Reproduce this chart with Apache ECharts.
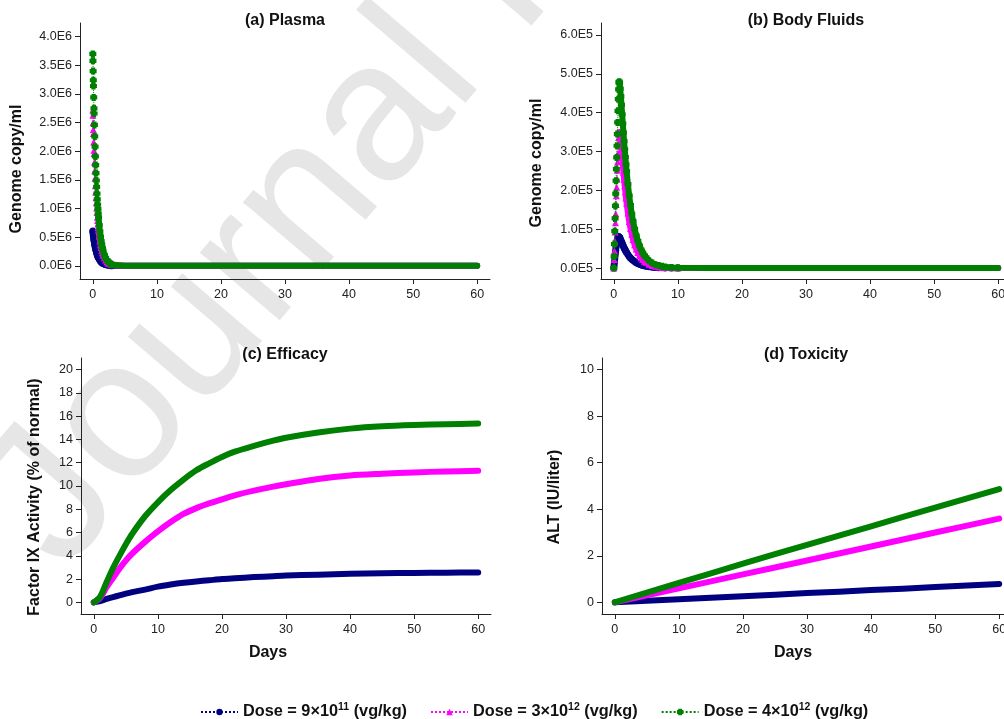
<!DOCTYPE html>
<html>
<head>
<meta charset="utf-8">
<script src="https://cdn.jsdelivr.net/npm/echarts@6/dist/echarts.min.js"></script>
<style>
  html, body { margin: 0; padding: 0; background: #fff; }
  #main { width: 1004px; height: 719px; }
</style>
</head>
<body>
<div id="main"></div>
<script>
// doses (legend)
const doseNames = ['Dose 9e11', 'Dose 3e12', 'Dose 4e12'];
const doseBase = ['9×10', '3×10', '4×10'];
const doseExp = ['11', '12', '12'];
const doseColors = ['#000080', '#ff00ff', '#008000'];
const doseSymbols = ['circle', 'triangle', 'path://M2,0H8V2H10V8H8V10H2V8H0V2H2Z'];

// tick labels
const dayTicks = [0, 10, 20, 30, 40, 50, 60];
const plasmaTicks = [0, 0.5, 1, 1.5, 2, 2.5, 3, 3.5, 4];      // x1E6
const bodyTicks = [0, 1, 2, 3, 4, 5, 6];                      // x1E5
const efficacyTicks = [0, 2, 4, 6, 8, 10, 12, 14, 16, 18, 20];
const toxicityTicks = [0, 2, 4, 6, 8, 10];

// (a) plasma, genome copy/ml in units of 1E6
const plasmaDays = [0, 0.02, 0.05, 0.08, 0.1, 0.14, 0.18, 0.2, 0.25, 0.3, 0.35, 0.4, 0.45, 0.5, 0.55, 0.6, 0.65, 0.7, 0.75, 0.8, 0.85, 0.9,
  1.0, 1.1, 1.2, 1.3, 1.4, 1.5, 1.6, 1.8, 2.0, 2.2, 2.4, 2.6, 2.8, 3.0,
  4, 5, 6, 8, 10, 15, 20, 25, 30, 35, 40, 45, 50, 55, 60];
const plasmaLow = [0.61, 0.59, 0.56, 0.53, 0.52, 0.48, 0.45, 0.44, 0.40, 0.37, 0.34, 0.31, 0.29, 0.27, 0.25, 0.23, 0.21, 0.19, 0.18, 0.16, 0.15, 0.14,
  0.12, 0.10, 0.08, 0.07, 0.06, 0.05, 0.04, 0.03, 0.02, 0.02, 0.01, 0.01, 0, 0,
  0, 0, 0, 0, 0, 0, 0, 0, 0, 0, 0, 0, 0, 0, 0];
const plasmaMid = [2.72, 2.63, 2.50, 2.38, 2.31, 2.16, 2.02, 1.96, 1.81, 1.66, 1.53, 1.40, 1.29, 1.19, 1.10, 1.01, 0.93, 0.85, 0.79, 0.73, 0.67, 0.62,
  0.52, 0.44, 0.37, 0.32, 0.27, 0.23, 0.19, 0.14, 0.10, 0.07, 0.05, 0.04, 0.03, 0.02,
  0.01, 0, 0, 0, 0, 0, 0, 0, 0, 0, 0, 0, 0, 0, 0];
const plasmaHigh = [3.70, 3.58, 3.40, 3.24, 3.14, 2.94, 2.75, 2.66, 2.46, 2.26, 2.08, 1.91, 1.76, 1.62, 1.49, 1.38, 1.26, 1.16, 1.07, 0.99, 0.91, 0.84,
  0.71, 0.60, 0.51, 0.43, 0.37, 0.31, 0.26, 0.19, 0.14, 0.10, 0.07, 0.05, 0.03, 0.02,
  0.01, 0, 0, 0, 0, 0, 0, 0, 0, 0, 0, 0, 0, 0, 0];

// (b) body fluids, genome copy/ml in units of 1E5
const bodyDays = [0, 0.05, 0.1, 0.15, 0.2, 0.25, 0.3, 0.35, 0.4, 0.45, 0.5, 0.55, 0.6, 0.65, 0.7, 0.75, 0.8, 0.85, 0.9,
  1.0, 1.1, 1.2, 1.3, 1.4, 1.5, 1.6, 1.7, 1.8, 1.9, 2.0, 2.2, 2.4, 2.6, 2.8, 3.0,
  3.25, 3.5, 3.75, 4.0, 4.25, 4.5, 4.75, 5.0, 5.5, 6.0, 6.5, 7.0, 7.5, 8.0, 9, 10,
  15, 20, 25, 30, 35, 40, 45, 50, 55, 60];
const bodyLow = [0, 0.08, 0.16, 0.24, 0.32, 0.39, 0.46, 0.53, 0.59, 0.64, 0.69, 0.73, 0.76, 0.78, 0.80, 0.81, 0.81, 0.80, 0.79,
  0.76, 0.72, 0.68, 0.64, 0.60, 0.56, 0.52, 0.49, 0.46, 0.43, 0.40, 0.35, 0.30, 0.26, 0.23, 0.20,
  0.17, 0.14, 0.12, 0.10, 0.085, 0.07, 0.06, 0.05, 0.035, 0.025, 0.017, 0.012, 0.008, 0.005, 0.002, 0.001,
  0, 0, 0, 0, 0, 0, 0, 0, 0, 0];
const bodyMid = [0, 0.22, 0.45, 0.69, 0.93, 1.17, 1.40, 1.64, 1.86, 2.08, 2.30, 2.52, 2.74, 2.96, 3.18, 3.36, 3.48, 3.50, 3.48,
  3.38, 3.22, 3.04, 2.85, 2.66, 2.47, 2.29, 2.12, 1.96, 1.81, 1.67, 1.42, 1.20, 1.02, 0.87, 0.74,
  0.60, 0.49, 0.40, 0.33, 0.27, 0.22, 0.18, 0.15, 0.10, 0.07, 0.05, 0.03, 0.02, 0.015, 0.007, 0.003,
  0, 0, 0, 0, 0, 0, 0, 0, 0, 0];
const bodyHigh = [0, 0.30, 0.62, 0.95, 1.28, 1.60, 1.92, 2.25, 2.55, 2.85, 3.15, 3.45, 3.75, 4.05, 4.35, 4.60, 4.78, 4.80, 4.76,
  4.62, 4.42, 4.20, 3.96, 3.72, 3.49, 3.27, 3.06, 2.86, 2.67, 2.49, 2.16, 1.87, 1.62, 1.40, 1.21,
  1.01, 0.84, 0.70, 0.58, 0.48, 0.40, 0.33, 0.28, 0.19, 0.13, 0.09, 0.065, 0.045, 0.03, 0.015, 0.007,
  0, 0, 0, 0, 0, 0, 0, 0, 0, 0];

// (c) efficacy, factor IX activity (% of normal)
const effDays = [0, 1, 2, 3, 4, 5, 6, 8, 10, 12, 14, 16, 18, 20, 22, 25, 28, 30, 35, 40, 45, 50, 55, 60];
const effLow = [0, 0.1, 0.3, 0.45, 0.6, 0.75, 0.88, 1.1, 1.35, 1.53, 1.68, 1.8, 1.9, 2.0, 2.07, 2.17, 2.25, 2.3, 2.38, 2.45, 2.5, 2.53, 2.55, 2.57];
const effMid = [0, 0.4, 1.3, 2.1, 2.9, 3.6, 4.2, 5.2, 6.1, 6.9, 7.6, 8.1, 8.5, 8.85, 9.2, 9.6, 9.95, 10.15, 10.6, 10.9, 11.05, 11.17, 11.25, 11.3];
const effHigh = [0, 0.5, 1.75, 2.95, 4.0, 5.0, 5.9, 7.4, 8.6, 9.65, 10.55, 11.35, 11.95, 12.5, 12.95, 13.45, 13.9, 14.15, 14.6, 14.93, 15.13, 15.24, 15.31, 15.37];

// (d) toxicity, ALT (IU/liter)
const toxDays = [0, 5, 10, 15, 20, 25, 30, 35, 40, 45, 50, 55, 60];
const toxLow = [0, 0.07, 0.13, 0.2, 0.26, 0.33, 0.4, 0.46, 0.53, 0.59, 0.66, 0.72, 0.79];
const toxMid = [0, 0.3, 0.6, 0.9, 1.2, 1.5, 1.8, 2.1, 2.4, 2.7, 3.0, 3.3, 3.6];
const toxHigh = [0, 0.42, 0.84, 1.25, 1.66, 2.07, 2.47, 2.87, 3.27, 3.67, 4.07, 4.47, 4.87];

const font = '"Liberation Sans", Arial, Helvetica, sans-serif';
const ink = '#222';

const chart = echarts.init(document.getElementById('main'));

function pairs(days, vals) {
  return days.map((d, k) => [d, vals[k]]);
}

function xAxis(grid) {
  return {
    type: 'value', gridIndex: grid, min: -2, max: 62,
    axisLine: { show: true, onZero: false, lineStyle: { color: ink, width: 1 } },
    axisTick: { show: true, length: 5, customValues: dayTicks, lineStyle: { color: ink } },
    axisLabel: { customValues: dayTicks, margin: 9, fontSize: 12.5, color: ink, fontFamily: font },
    splitLine: { show: false }
  };
}

function yAxis(grid, min, max, ticks, fmt) {
  return {
    type: 'value', gridIndex: grid, min: min, max: max,
    axisLine: { show: true, onZero: false, lineStyle: { color: ink, width: 1 } },
    axisTick: { show: true, length: 5, customValues: ticks, lineStyle: { color: ink } },
    axisLabel: { customValues: ticks, margin: 8, fontSize: 12.5, color: ink, fontFamily: font, formatter: fmt },
    splitLine: { show: false }
  };
}

// dotted line with markers (the legend takes its icon from these)
function markerSeries(i, grid, days, vals, upto) {
  return {
    type: 'line', name: doseNames[i], xAxisIndex: grid, yAxisIndex: grid,
    data: pairs(days, vals).slice(0, upto), symbol: doseSymbols[i], symbolSize: 7, showSymbol: true,
    lineStyle: { color: doseColors[i], width: 1, type: 'dotted' },
    itemStyle: { color: doseColors[i] }, z: 3 + i * 2
  };
}

// thick band where the markers pile up into a solid trace
function bandSeries(i, grid, days, vals, from, width) {
  return {
    type: 'line', name: doseNames[i], xAxisIndex: grid, yAxisIndex: grid,
    data: pairs(days, vals).slice(from), symbol: 'none',
    lineStyle: { color: doseColors[i], width: width, cap: 'round', join: 'round' },
    z: 2 + i * 2
  };
}

const plasmaSets = [plasmaLow, plasmaMid, plasmaHigh];
const bodySets = [bodyLow, bodyMid, bodyHigh];
const effSets = [effLow, effMid, effHigh];
const toxSets = [toxLow, toxMid, toxHigh];

const series = [];
plasmaSets.forEach((v, i) => series.push(markerSeries(i, 0, plasmaDays, v, 36)));
plasmaSets.forEach((v, i) => series.push(bandSeries(i, 0, plasmaDays, v, 21, 6)));
bodySets.forEach((v, i) => series.push(markerSeries(i, 1, bodyDays, v, 51)));
bodySets.forEach((v, i) => series.push(bandSeries(i, 1, bodyDays, v, 17, 6)));
effSets.forEach((v, i) => {
  const s = bandSeries(i, 2, effDays, v, 0, 6);
  s.smooth = 0.3;
  series.push(s);
});
toxSets.forEach((v, i) => series.push(bandSeries(i, 3, toxDays, v, 0, 6)));

function label(text, x, y, rot) {
  return {
    type: 'text', x: x, y: y, rotation: rot ? Math.PI / 2 : 0, z: 10,
    style: {
      text: text, fill: '#111', font: 'bold 16px ' + font,
      align: 'center', verticalAlign: 'middle', textAlign: 'center', textVerticalAlign: 'middle'
    }
  };
}

function grid(left, top) {
  return { left: left, top: top, width: 410, height: 256, outerBoundsMode: 'none' };
}

chart.setOption({
  animation: false,
  backgroundColor: '#fff',
  grid: [grid(80, 23), grid(601, 23), grid(81, 358), grid(602, 358)],
  xAxis: [xAxis(0), xAxis(1), xAxis(2), xAxis(3)],
  yAxis: [
    yAxis(0, -0.23, 4.24, plasmaTicks, v => v.toFixed(1) + 'E6'),
    yAxis(1, -0.28, 6.31, bodyTicks, v => v.toFixed(1) + 'E5'),
    yAxis(2, -1, 21, efficacyTicks, v => String(v)),
    yAxis(3, -0.5, 10.5, toxicityTicks, v => String(v))
  ],
  legend: {
    data: doseNames, left: 195, top: 697,
    itemWidth: 37, itemHeight: 8, itemGap: 23, selectedMode: false,
    formatter: name => {
      const i = doseNames.indexOf(name);
      return '{b|Dose = ' + doseBase[i] + '}{s|' + doseExp[i] + '}{b| (vg/kg)}';
    },
    textStyle: {
      rich: {
        b: { fontSize: 16.3, fontWeight: 'bold', fontFamily: font, color: '#111' },
        s: { fontSize: 10.5, fontWeight: 'bold', fontFamily: font, color: '#111', padding: [0, 0, 9, 0] }
      }
    }
  },
  graphic: [
    {
      type: 'text', x: 22, y: 538, rotation: 49.5 * Math.PI / 180, z: -10, silent: true,
      style: {
        text: 'Journal Pre-proof', fill: '#e6e6e6', font: '198px ' + font,
        align: 'left', verticalAlign: 'middle', textAlign: 'left', textVerticalAlign: 'middle'
      }
    },
    label('(a) Plasma', 285, 21),
    label('(b) Body Fluids', 806, 21),
    label('(c) Efficacy', 285, 355),
    label('(d) Toxicity', 806, 355),
    label('Genome copy/ml', 17, 169, true),
    label('Genome copy/ml', 537, 163, true),
    label('Factor IX Activity (% of normal)', 35, 497, true),
    label('ALT (IU/liter)', 555, 497, true),
    label('Days', 268, 653),
    label('Days', 793, 653)
  ],
  series: series
});
</script>
</body>
</html>
